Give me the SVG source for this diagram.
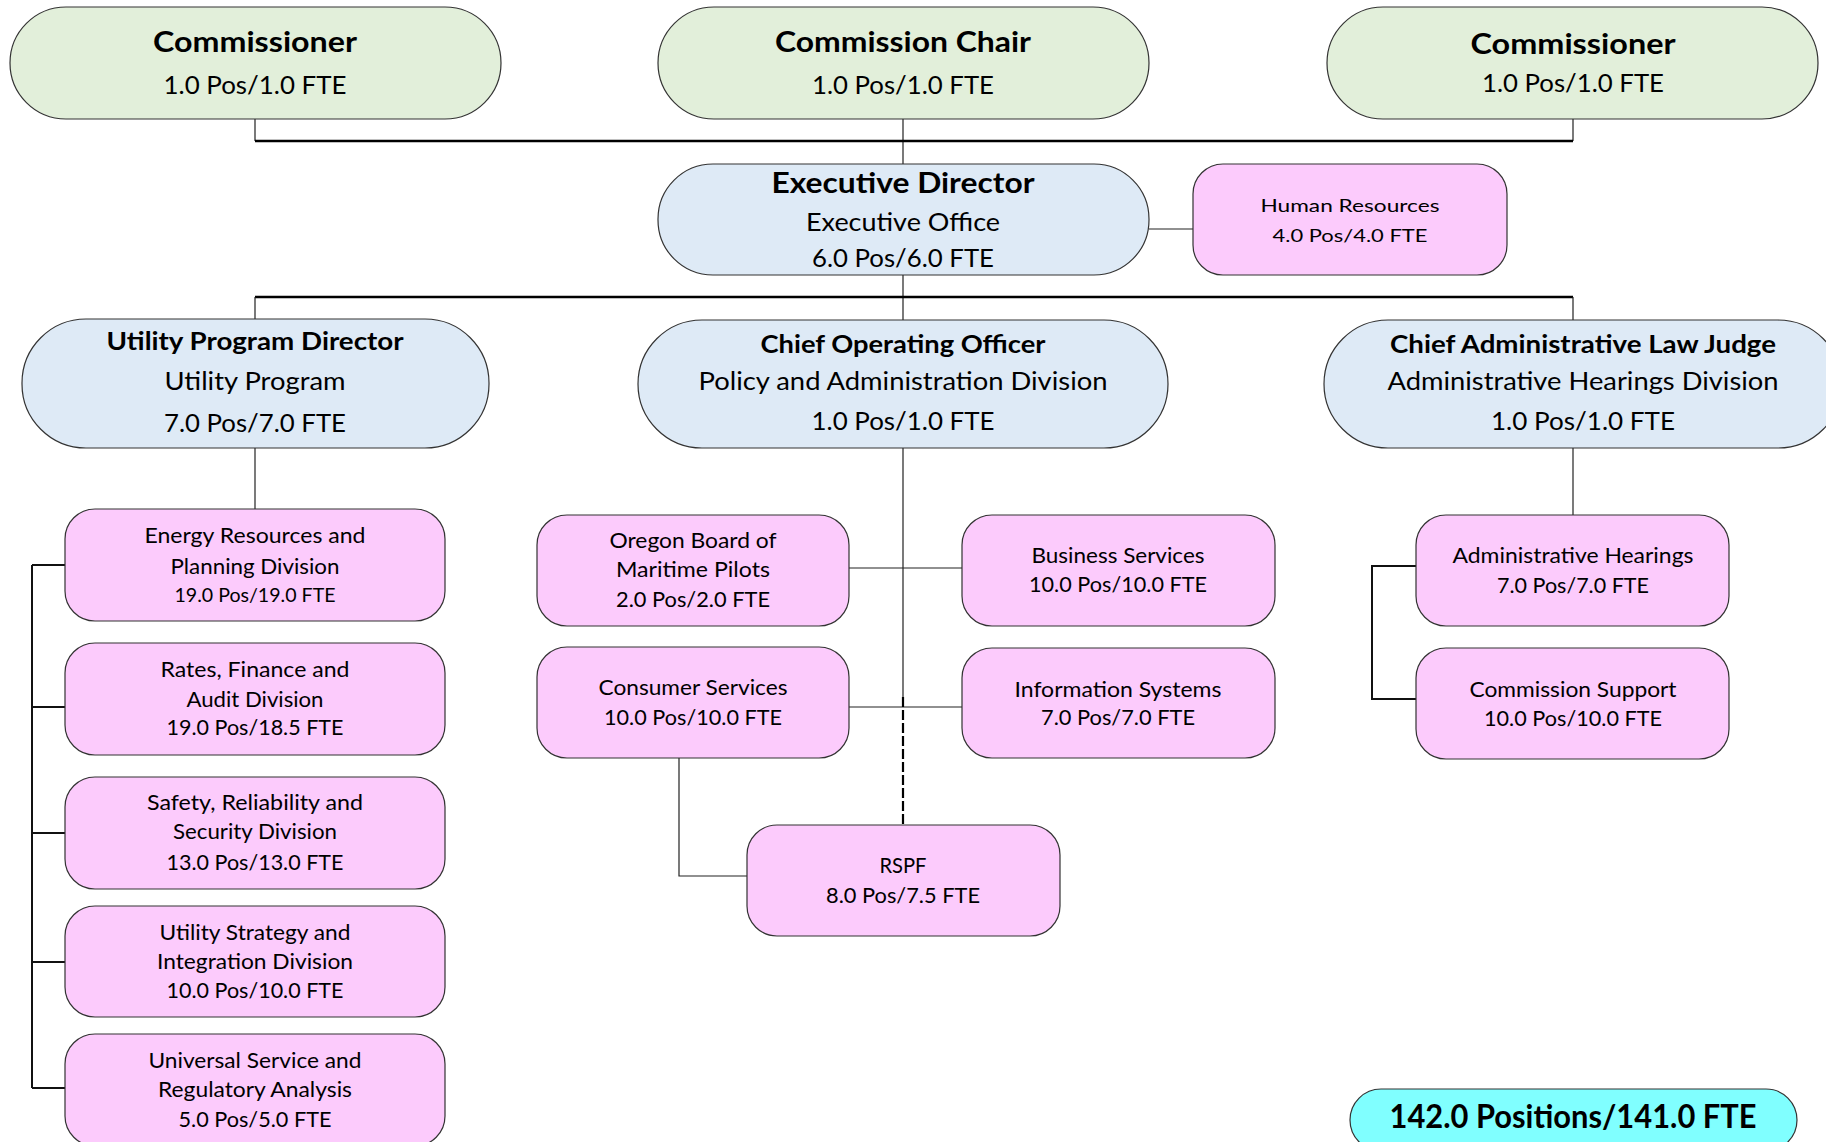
<svg xmlns="http://www.w3.org/2000/svg" width="1826" height="1142" viewBox="0 0 1826 1142">
<defs>
<style>
.g{fill:#E2EFDA;stroke:#333;stroke-width:1.2}
.b{fill:#DEEAF6;stroke:#333;stroke-width:1.2}
.p{fill:#FCCBFC;stroke:#333;stroke-width:1.2}
.c{fill:#80FFFF;stroke:#333;stroke-width:1.2}
text{font-family:Lato,"Liberation Sans",sans-serif;fill:#000;text-anchor:middle}
.tb{font-weight:bold}
.ln{fill:none;stroke:#222;stroke-width:1.2}
.lt{fill:none;stroke:#000;stroke-width:2.6}
.lm{fill:none;stroke:#111;stroke-width:2}
.ld{fill:none;stroke:#000;stroke-width:2.2;stroke-dasharray:10 3}
</style>
</defs>
<rect width="1826" height="1142" fill="#fff"/>
<g id="connectors">
<path class="ln" d="M255 119V141M903 119V164M1573 119V141"/>
<path class="lt" d="M255 141H1573"/>
<path class="ln" d="M1149 229H1193M903 275V320"/>
<path class="lt" d="M255 297H1573"/>
<path class="ln" d="M255 297V319M1573 297V320"/>
<path class="ln" d="M255 448V509"/>
<path class="lm" d="M32 565V1088M32 565H65M32 707H65M32 833H65M32 962H65M32 1088H65"/>
<path class="ln" d="M903 448V707M849 568H962M849 707H962"/>
<path class="ld" d="M903 697V825"/>
<path class="ln" d="M679 758V876H747"/>
<path class="ln" d="M1573 448V515"/>
<path class="lm" d="M1416 566H1372V699H1416"/>
</g>
<g id="commissioner-left">
<rect class="g" x="10" y="7" width="491" height="112" rx="56"/>
<text class="tb" x="255" y="52" font-size="29" textLength="204" lengthAdjust="spacingAndGlyphs">Commissioner</text>
<text x="255" y="94" font-size="25" textLength="183" lengthAdjust="spacingAndGlyphs">1.0 Pos/1.0 FTE</text>
</g>
<g id="commission-chair">
<rect class="g" x="658" y="7" width="491" height="112" rx="56"/>
<text class="tb" x="903" y="52" font-size="29" textLength="256" lengthAdjust="spacingAndGlyphs">Commission Chair</text>
<text x="903" y="94" font-size="25" textLength="182" lengthAdjust="spacingAndGlyphs">1.0 Pos/1.0 FTE</text>
</g>
<g id="commissioner-right">
<rect class="g" x="1327" y="7" width="491" height="112" rx="56"/>
<text class="tb" x="1573" y="54" font-size="29" textLength="205" lengthAdjust="spacingAndGlyphs">Commissioner</text>
<text x="1573" y="92" font-size="25" textLength="182" lengthAdjust="spacingAndGlyphs">1.0 Pos/1.0 FTE</text>
</g>
<g id="executive-director">
<rect class="b" x="658" y="164" width="491" height="111" rx="55"/>
<text class="tb" x="903" y="193" font-size="29" textLength="263" lengthAdjust="spacingAndGlyphs">Executive Director</text>
<text x="903" y="231" font-size="25" textLength="194" lengthAdjust="spacingAndGlyphs">Executive Office</text>
<text x="903" y="267" font-size="25" textLength="182" lengthAdjust="spacingAndGlyphs">6.0 Pos/6.0 FTE</text>
</g>
<g id="human-resources">
<rect class="p" x="1193" y="164" width="314" height="111" rx="30"/>
<text x="1350" y="212" font-size="18" textLength="179" lengthAdjust="spacingAndGlyphs">Human Resources</text>
<text x="1350" y="242" font-size="18" textLength="155" lengthAdjust="spacingAndGlyphs">4.0 Pos/4.0 FTE</text>
</g>
<g id="utility-program-director">
<rect class="b" x="22" y="319" width="467" height="129" rx="64"/>
<text class="tb" x="255" y="350" font-size="24" textLength="297" lengthAdjust="spacingAndGlyphs">Utility Program Director</text>
<text x="255" y="390" font-size="25" textLength="181" lengthAdjust="spacingAndGlyphs">Utility Program</text>
<text x="255" y="432" font-size="25" textLength="182" lengthAdjust="spacingAndGlyphs">7.0 Pos/7.0 FTE</text>
</g>
<g id="chief-operating-officer">
<rect class="b" x="638" y="320" width="530" height="128" rx="64"/>
<text class="tb" x="903" y="353" font-size="24" textLength="285" lengthAdjust="spacingAndGlyphs">Chief Operating Officer</text>
<text x="903" y="390" font-size="25" textLength="409" lengthAdjust="spacingAndGlyphs">Policy and Administration Division</text>
<text x="903" y="430" font-size="25" textLength="183" lengthAdjust="spacingAndGlyphs">1.0 Pos/1.0 FTE</text>
</g>
<g id="chief-administrative-law-judge">
<rect class="b" x="1324" y="320" width="518" height="128" rx="64"/>
<text class="tb" x="1583" y="353" font-size="24" textLength="386" lengthAdjust="spacingAndGlyphs">Chief Administrative Law Judge</text>
<text x="1583" y="390" font-size="25" textLength="391" lengthAdjust="spacingAndGlyphs">Administrative Hearings Division</text>
<text x="1583" y="430" font-size="25" textLength="184" lengthAdjust="spacingAndGlyphs">1.0 Pos/1.0 FTE</text>
</g>
<g id="energy-resources">
<rect class="p" x="65" y="509" width="380" height="112" rx="30"/>
<text x="255" y="543" font-size="21" textLength="221" lengthAdjust="spacingAndGlyphs">Energy Resources and</text>
<text x="255" y="574" font-size="21" textLength="169" lengthAdjust="spacingAndGlyphs">Planning Division</text>
<text x="255" y="602" font-size="19" textLength="161" lengthAdjust="spacingAndGlyphs">19.0 Pos/19.0 FTE</text>
</g>
<g id="rates-finance">
<rect class="p" x="65" y="643" width="380" height="112" rx="30"/>
<text x="255" y="677" font-size="21" textLength="189" lengthAdjust="spacingAndGlyphs">Rates, Finance and</text>
<text x="255" y="707" font-size="21" textLength="137" lengthAdjust="spacingAndGlyphs">Audit Division</text>
<text x="255" y="735" font-size="21" textLength="177" lengthAdjust="spacingAndGlyphs">19.0 Pos/18.5 FTE</text>
</g>
<g id="safety-reliability">
<rect class="p" x="65" y="777" width="380" height="112" rx="30"/>
<text x="255" y="810" font-size="21" textLength="216" lengthAdjust="spacingAndGlyphs">Safety, Reliability and</text>
<text x="255" y="839" font-size="21" textLength="164" lengthAdjust="spacingAndGlyphs">Security Division</text>
<text x="255" y="870" font-size="21" textLength="177" lengthAdjust="spacingAndGlyphs">13.0 Pos/13.0 FTE</text>
</g>
<g id="utility-strategy">
<rect class="p" x="65" y="906" width="380" height="111" rx="30"/>
<text x="255" y="940" font-size="21" textLength="191" lengthAdjust="spacingAndGlyphs">Utility Strategy and</text>
<text x="255" y="969" font-size="21" textLength="196" lengthAdjust="spacingAndGlyphs">Integration Division</text>
<text x="255" y="998" font-size="21" textLength="177" lengthAdjust="spacingAndGlyphs">10.0 Pos/10.0 FTE</text>
</g>
<g id="universal-service">
<rect class="p" x="65" y="1034" width="380" height="112" rx="30"/>
<text x="255" y="1068" font-size="21" textLength="213" lengthAdjust="spacingAndGlyphs">Universal Service and</text>
<text x="255" y="1097" font-size="21" textLength="194" lengthAdjust="spacingAndGlyphs">Regulatory Analysis</text>
<text x="255" y="1127" font-size="21" textLength="153" lengthAdjust="spacingAndGlyphs">5.0 Pos/5.0 FTE</text>
</g>
<g id="oregon-board">
<rect class="p" x="537" y="515" width="312" height="111" rx="30"/>
<text x="693" y="548" font-size="21" textLength="167" lengthAdjust="spacingAndGlyphs">Oregon Board of</text>
<text x="693" y="577" font-size="21" textLength="154" lengthAdjust="spacingAndGlyphs">Maritime Pilots</text>
<text x="693" y="607" font-size="21" textLength="154" lengthAdjust="spacingAndGlyphs">2.0 Pos/2.0 FTE</text>
</g>
<g id="business-services">
<rect class="p" x="962" y="515" width="313" height="111" rx="30"/>
<text x="1118" y="563" font-size="21" textLength="173" lengthAdjust="spacingAndGlyphs">Business Services</text>
<text x="1118" y="592" font-size="21" textLength="178" lengthAdjust="spacingAndGlyphs">10.0 Pos/10.0 FTE</text>
</g>
<g id="consumer-services">
<rect class="p" x="537" y="647" width="312" height="111" rx="30"/>
<text x="693" y="695" font-size="21" textLength="189" lengthAdjust="spacingAndGlyphs">Consumer Services</text>
<text x="693" y="725" font-size="21" textLength="178" lengthAdjust="spacingAndGlyphs">10.0 Pos/10.0 FTE</text>
</g>
<g id="information-systems">
<rect class="p" x="962" y="648" width="313" height="110" rx="30"/>
<text x="1118" y="697" font-size="21" textLength="207" lengthAdjust="spacingAndGlyphs">Information Systems</text>
<text x="1118" y="725" font-size="21" textLength="154" lengthAdjust="spacingAndGlyphs">7.0 Pos/7.0 FTE</text>
</g>
<g id="rspf">
<rect class="p" x="747" y="825" width="313" height="111" rx="30"/>
<text x="903" y="873" font-size="21" textLength="47" lengthAdjust="spacingAndGlyphs">RSPF</text>
<text x="903" y="903" font-size="21" textLength="154" lengthAdjust="spacingAndGlyphs">8.0 Pos/7.5 FTE</text>
</g>
<g id="administrative-hearings">
<rect class="p" x="1416" y="515" width="313" height="111" rx="30"/>
<text x="1573" y="563" font-size="21" textLength="241" lengthAdjust="spacingAndGlyphs">Administrative Hearings</text>
<text x="1573" y="593" font-size="21" textLength="152" lengthAdjust="spacingAndGlyphs">7.0 Pos/7.0 FTE</text>
</g>
<g id="commission-support">
<rect class="p" x="1416" y="648" width="313" height="111" rx="30"/>
<text x="1573" y="697" font-size="21" textLength="207" lengthAdjust="spacingAndGlyphs">Commission Support</text>
<text x="1573" y="726" font-size="21" textLength="178" lengthAdjust="spacingAndGlyphs">10.0 Pos/10.0 FTE</text>
</g>
<g id="total">
<rect class="c" x="1350" y="1089" width="447" height="62" rx="31"/>
<text class="tb" x="1573" y="1128" font-size="32" textLength="367" lengthAdjust="spacingAndGlyphs">142.0 Positions/141.0 FTE</text>
</g>
</svg>
